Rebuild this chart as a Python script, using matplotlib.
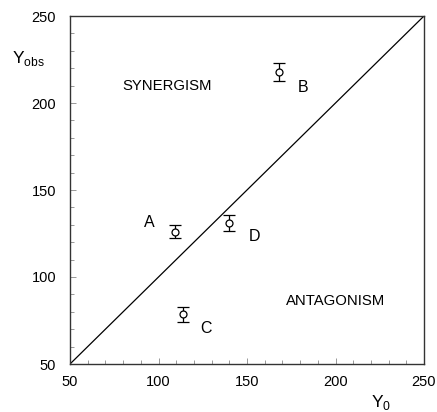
import matplotlib
matplotlib.use("Agg")
import matplotlib.pyplot as plt
from matplotlib.ticker import MultipleLocator

plt.rcParams['font.family'] = ['Liberation Sans', 'DejaVu Sans']

labels = ["A", "B", "C", "D"]
y0 = [109.5, 168, 114, 140]
yobs = [126, 218, 78.5, 131]
yerr = [3.7, 5.2, 4.5, 4.4]
label_x = [95, 181.5, 127, 154]
label_y = [131.5, 209, 70.5, 123.5]
diag = [50, 250]

fig = plt.figure(figsize=(4.37, 4.12), dpi=100)
ax = fig.add_axes([70/437, 1-364/412, 354/437, 348/412])

ax.plot(diag, diag, color="black", lw=0.9)
ax.errorbar(y0, yobs, yerr=yerr, fmt="o", mfc="white", mec="black", ms=5,
            mew=0.9, ecolor="black", elinewidth=0.9, capsize=4, capthick=0.9, zorder=3)
for l, x, y in zip(labels, label_x, label_y):
    ax.text(x, y, l, fontsize=11.5, ha="center", va="center")

ax.text(79.5, 210, "SYNERGISM", fontsize=10.7, ha="left", va="center")
ax.text(172, 86, "ANTAGONISM", fontsize=10.7, ha="left", va="center")

ax.set_xlim(50, 250)
ax.set_ylim(50, 250)
ax.xaxis.set_major_locator(MultipleLocator(50))
ax.yaxis.set_major_locator(MultipleLocator(50))
ax.xaxis.set_minor_locator(MultipleLocator(10))
ax.yaxis.set_minor_locator(MultipleLocator(10))
ax.tick_params(which="both", direction="in", top=False, right=False, labelsize=10.5)
ax.tick_params(which="major", length=4, width=0.6, color="#888888")
ax.tick_params(which="minor", length=3, width=0.6, color="#888888")
ax.tick_params(axis="y", pad=10)
ax.tick_params(axis="x", pad=8)
for s in ax.spines.values():
    s.set_linewidth(1.0)
    s.set_color("#333333")

fig.text(28/437, 1-58/412, r"Y$_{\mathregular{obs}}$", fontsize=12.5, ha="center", va="center")
fig.text(381/437, 1-403/412, r"Y$_{\mathregular{0}}$", fontsize=12.5, ha="center", va="center")

fig.savefig("out.png", dpi=100)
